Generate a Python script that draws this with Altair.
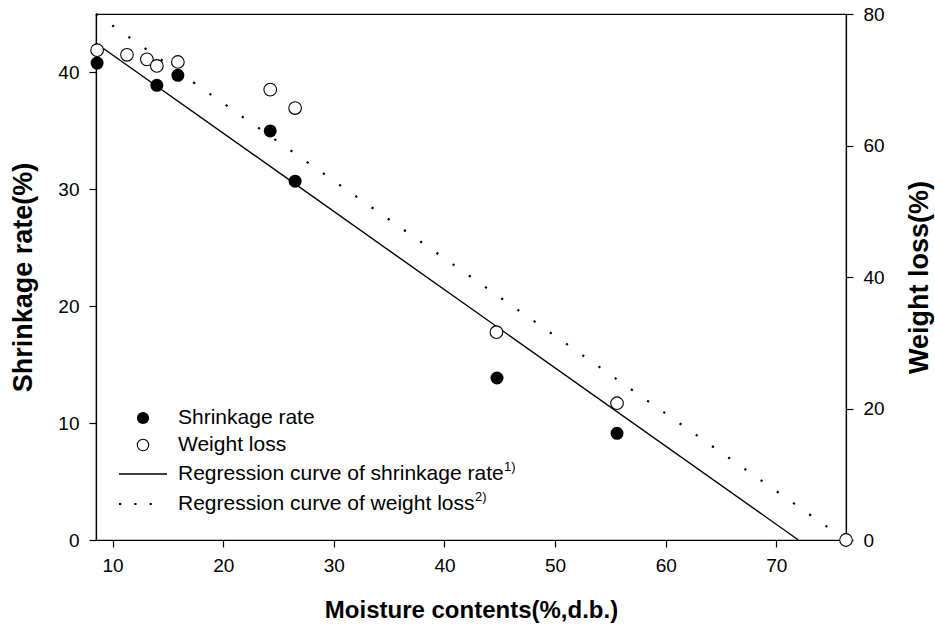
import altair as alt
import pandas as pd

# ---------------- data ----------------
moisture_sr = [8.6, 14.0, 15.9, 24.25, 26.5, 44.75, 55.6]
shrinkage = [40.8, 38.9, 39.75, 35.0, 30.7, 13.86, 9.13]

moisture_wl = [8.6, 11.3, 13.1, 14.0, 15.9, 24.25, 26.5, 44.7, 55.6, 76.3]
weight_loss = [74.5, 73.8, 73.1, 72.1, 72.7, 68.5, 65.7, 31.6, 20.8, 0.0]

reg_sr_x = [8.5, 72.0]
reg_sr_y = [42.5, 0.0]
reg_wl_x = [8.5, 76.3]
reg_wl_y = [80.0, 0.0]

x_ticks = [10, 20, 30, 40, 50, 60, 70]
left_ticks = [0, 10, 20, 30, 40]
right_ticks = [0, 20, 40, 60, 80]

legend_labels = ["Shrinkage rate", "Weight loss",
                 "Regression curve of shrinkage rate",
                 "Regression curve of weight loss"]
legend_sups = ["1)", "2)"]

FONT = "Liberation Sans"

df_sr = pd.DataFrame({"m": moisture_sr, "v": shrinkage})
df_wl = pd.DataFrame({"m": moisture_wl, "v": weight_loss})
df_rsr = pd.DataFrame({"m": reg_sr_x, "v": reg_sr_y})
df_rwl = pd.DataFrame({"m": reg_wl_x, "v": reg_wl_y})

xscale = alt.Scale(domain=[8.5, 76.3], nice=False, zero=False)
lscale = alt.Scale(domain=[0, 45], nice=False, zero=False)
rscale = alt.Scale(domain=[0, 80], nice=False, zero=False)

x_axis = alt.Axis(values=x_ticks, title="Moisture contents(%,d.b.)",
                  titleY=70, titleBaseline="middle", labelPadding=9,
                  titleFontSize=24)
x_enc = alt.X("m:Q", scale=xscale, axis=x_axis)

left_axis = alt.Axis(orient="left", values=left_ticks, title="Shrinkage rate(%)",
                     titleX=-73, titleY=263, titleAngle=270, titleFontSize=27,
                     titleBaseline="middle", titleAlign="center")
right_axis = alt.Axis(orient="right", values=right_ticks, title="Weight loss(%)",
                      titleX=73, titleY=263, titleAngle=270, titleFontSize=27,
                      titleBaseline="middle", titleAlign="center")

solid = alt.Chart(df_rsr).mark_line(color="black", strokeWidth=1.4).encode(
    x=x_enc,
    y=alt.Y("v:Q", scale=lscale, axis=left_axis),
)

dotted = alt.Chart(df_rwl).mark_line(color="black", strokeWidth=2.2,
                                     strokeDash=[2.2, 17.6], strokeCap="butt").encode(
    x=x_enc,
    y=alt.Y("v:Q", scale=rscale, axis=right_axis),
)

filled = alt.Chart(df_sr).mark_point(shape="circle", filled=True, color="black",
                                     size=169, opacity=1).encode(
    x=x_enc,
    y=alt.Y("v:Q", scale=lscale, axis=None),
)

hollow = alt.Chart(df_wl).mark_point(shape="circle", filled=True, fill="white",
                                     stroke="black", strokeWidth=1.1,
                                     size=160, opacity=1).encode(
    x=x_enc,
    y=alt.Y("v:Q", scale=rscale, axis=None),
)

# ---------------- manual legend (pixel offsets inside the plot area) ----------------
leg_rows_y = [404, 431, 460, 490]
LFS = 21
leg = []
leg.append(alt.Chart(pd.DataFrame({"k": [0]})).mark_point(
    shape="circle", filled=True, color="black", size=150, opacity=1).encode(
    x=alt.value(47), y=alt.value(leg_rows_y[0])))
leg.append(alt.Chart(pd.DataFrame({"k": [0]})).mark_point(
    shape="circle", filled=True, fill="white", stroke="black", strokeWidth=1.1,
    size=130, opacity=1).encode(
    x=alt.value(47), y=alt.value(leg_rows_y[1])))
leg.append(alt.Chart(pd.DataFrame({"k": [0]})).mark_rule(
    color="black", strokeWidth=1.4).encode(
    x=alt.value(23), x2=alt.value(71), y=alt.value(leg_rows_y[2])))
leg.append(alt.Chart(pd.DataFrame({"k": [0]})).mark_rule(
    color="black", strokeWidth=2.2, strokeDash=[2.2, 13.1], strokeCap="butt").encode(
    x=alt.value(23), x2=alt.value(57), y=alt.value(leg_rows_y[3])))
for lab, yy in zip(legend_labels, leg_rows_y):
    leg.append(alt.Chart(pd.DataFrame({"t": [lab]})).mark_text(
        align="left", baseline="middle", font=FONT, fontSize=LFS, color="black").encode(
        x=alt.value(82), y=alt.value(yy), text="t:N"))
sup_x = [408, 379]
sup_y = [453, 483]
for s, xx, yy in zip(legend_sups, sup_x, sup_y):
    leg.append(alt.Chart(pd.DataFrame({"t": [s]})).mark_text(
        align="left", baseline="middle", font=FONT, fontSize=13, color="black").encode(
        x=alt.value(xx), y=alt.value(yy), text="t:N"))

chart = alt.layer(solid, dotted, filled, hollow, *leg).resolve_scale(
    y="independent"
).properties(
    width=750, height=526,
    autosize=alt.AutoSizeParams(type="none"),
    padding={"left": 96, "top": 14, "right": 89, "bottom": 89},
    background="white",
).configure_view(
    stroke="black", strokeWidth=1.2
).configure_axis(
    grid=False, domainColor="black", domainWidth=1.2, tickColor="black",
    tickSize=7, tickWidth=1.2, labelFont=FONT, labelFontSize=19, labelColor="black",
    labelPadding=10, titleFont=FONT, titleFontWeight="bold",
    titleColor="black", labelFlush=False,
)

chart.save("out.html", embed_options={"renderer": "svg", "actions": False})
